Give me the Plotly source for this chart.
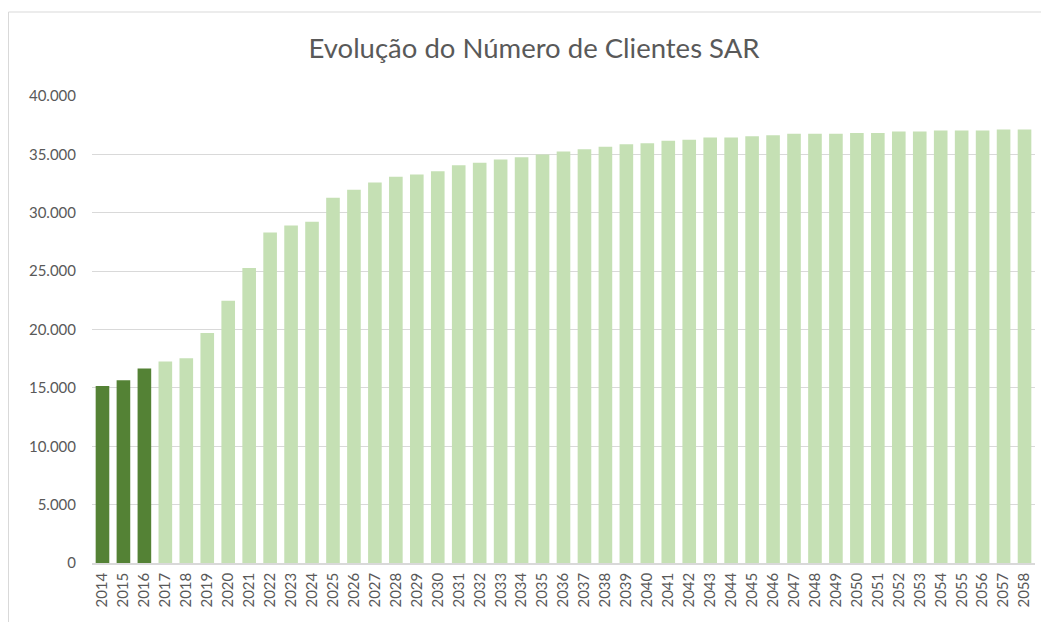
import plotly.graph_objects as go

years = [str(y) for y in range(2014, 2059)]
values = [15170, 15650, 16650, 17250, 17540, 19700, 22470, 25260, 28310, 28910,
          29230, 31280, 31970, 32590, 33080, 33280, 33560, 34070, 34280, 34560,
          34760, 34990, 35240, 35440, 35650, 35870, 35950, 36160, 36250, 36440,
          36440, 36550, 36640, 36760, 36760, 36760, 36840, 36840, 36950, 36950,
          37040, 37040, 37040, 37130, 37130]
n_actual = 3
dark = "#548235"
light = "#C5E0B4"
colors = [dark if i < n_actual else light for i in range(len(years))]

fig = go.Figure(go.Bar(x=years, y=values, marker=dict(color=colors, line=dict(width=0)),
                       hovertemplate="%{x}: %{y:,}<extra></extra>"))

# page body has an 8px margin; figure sized to fit the window
OFF = 8
W, H = 1049 - OFF, 622 - OFF
L, R, T, B = 92 - OFF, 14, 96 - OFF, 59
pw = W - L - R
ph = H - T - B
FONT = "Lato, 'Open Sans', sans-serif"

fig.update_layout(
    width=W, height=H,
    margin=dict(l=L, r=R, t=T, b=B, autoexpand=False),
    paper_bgcolor="white", plot_bgcolor="white",
    separators=",.",
    bargap=0.35,
    showlegend=False,
    font=dict(family=FONT, color="#595959"),
    title=dict(text="Evolução do Número de Clientes SAR", x=(534 - OFF) / W, xanchor="center",
               y=1 - (48 - OFF) / H, yanchor="middle",
               font=dict(size=27.5, color="#595959", family=FONT)),
    xaxis=dict(type="category", tickangle=-90, tickfont=dict(size=15, color="#595959"),
               showline=True, linecolor="#D9D9D9", linewidth=1.5, ticks="",
               showgrid=False, ticklabelstandoff=2),
    yaxis=dict(range=[0, 40000], dtick=5000, tickformat=",", showgrid=True,
               gridcolor="#D9D9D9", gridwidth=1, zeroline=False, ticks="",
               tickfont=dict(size=15, color="#595959"), ticklabelstandoff=15),
    shapes=[dict(type="rect", xref="paper", yref="paper",
                 x0=(0.5 - L) / pw, x1=(W + 20 - L) / pw,
                 y0=-(B + 20) / ph, y1=(H - B - (12 - OFF)) / ph,
                 line=dict(color="#D9D9D9", width=1), fillcolor="rgba(0,0,0,0)", layer="below")],
)

fig.write_html("out.html")
